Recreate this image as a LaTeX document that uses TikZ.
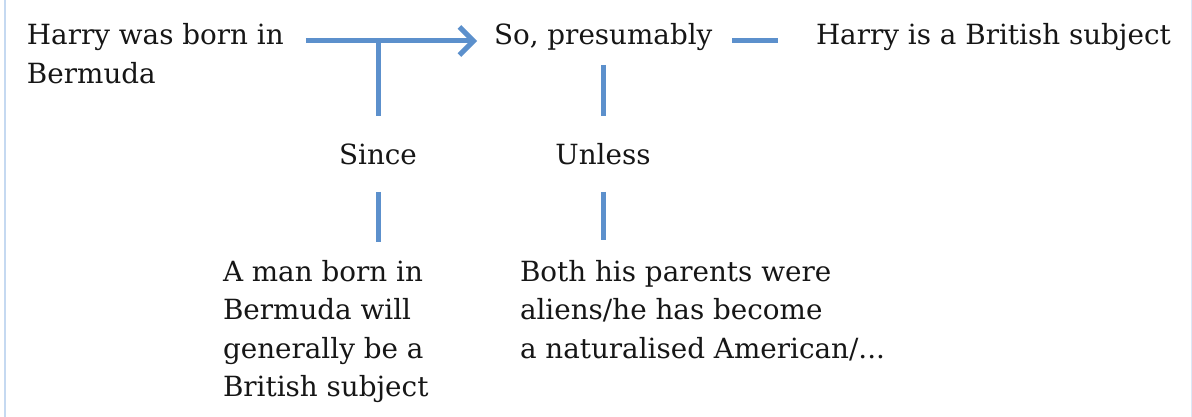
\documentclass[tikz,border=0pt]{standalone}
\usepackage{fontspec}
\setmainfont{DejaVu Serif}
\usetikzlibrary{arrows.meta}
\definecolor{linkblue}{RGB}{92,144,204}
\definecolor{edgeblue}{RGB}{197,217,241}
\definecolor{inkgray}{RGB}{22,22,22}
\begin{document}
\begin{tikzpicture}[x=1pt,y=-1pt,
  every node/.style={inner sep=0pt, outer sep=0pt, text=inkgray,
    font=\fontsize{27.8}{38.6}\selectfont},
  label/.style={anchor=base west, align=left},
  word/.style={anchor=base},
  link/.style={draw=linkblue, line width=5pt},
  tip/.style={-{Straight Barb[length=14pt,width=28pt]}}]
  \useasboundingbox (0,0) rectangle (1192,417);
  % frame rules at the page edges
  \draw[edgeblue, line width=2pt] (5,0) -- (5,417);
  \draw[edgeblue!60, line width=1pt] (1191,0) -- (1191,417);

  % claim, qualifier and conclusion (base anchor = last line)
  \node[label] (born) at (27,83.6) {Harry was born in\\Bermuda};
  \node[label] (so) at (494,45) {So, presumably};
  \node[label] (harry) at (816,45) {Harry is a British subject};

  % warrant and rebuttal keywords
  \node[word] (since) at (378,165) {Since};
  \node[word] (unless) at (603,165) {Unless};

  % warrant and rebuttal texts
  \node[label] (man) at (223,396.8) {A man born in\\Bermuda will\\generally be a\\British subject};
  \node[label] (both) at (520,358.2) {Both his parents were\\aliens/he has become\\a naturalised American/...};

  % main inference arrow
  \coordinate (a0) at ([yshift=4pt]born.base east |- so.base west);
  \draw[link, tip, shorten <=22pt, shorten >=17pt] (a0) -- ([yshift=4pt]so.base west);
  \coordinate (j) at ([yshift=4pt]since |- so.base west);

  % qualifier to conclusion
  \draw[link, shorten <=20pt, shorten >=38pt] ([yshift=4pt]so.base east) -- ([yshift=4pt]harry.base west);

  % warrant support
  \draw[link] (j) -- ([yshift=49pt]since.base);
  \draw[link] ([yshift=-27pt]since.base) -- ([yshift=-77pt]since.base);

  % rebuttal links
  \draw[link] ([yshift=100pt]unless.base) -- ([yshift=49pt]unless.base);
  \draw[link] ([yshift=-27pt]unless.base) -- ([yshift=-75pt]unless.base);
\end{tikzpicture}
\end{document}
